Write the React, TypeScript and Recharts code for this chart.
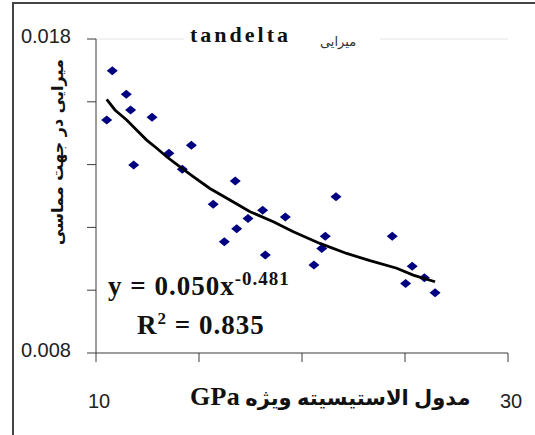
import {ReferenceLine, Scatter, ScatterChart, XAxis, YAxis} from 'recharts';

// measured points: specific modulus (GPa) vs tan delta
const modulusGPa = [10.52, 10.79, 11.47, 11.68, 11.83, 12.72, 13.54, 14.19, 14.63, 15.69, 16.23, 16.76, 16.83,
  17.38, 18.09, 18.22, 19.19, 20.58, 20.96, 21.13, 21.65, 24.38, 25.03, 25.35, 25.94, 26.46];
const tanDelta = [0.01542, 0.01699, 0.01624, 0.01574, 0.01399, 0.01551, 0.01436, 0.01385, 0.01462, 0.01274, 0.01154,
  0.01348, 0.01196, 0.01228, 0.01255, 0.01112, 0.01233, 0.0108, 0.01133, 0.01172, 0.01298, 0.01172, 0.01021,
  0.01076, 0.0104, 0.00992];

// power trend line
const trendModulus = [10.52, 10.92, 11.49, 11.97, 12.46, 12.95, 13.43, 14.08, 14.72, 15.53, 16.5, 17.48, 18.61,
  19.58, 20.87, 22.17, 23.3, 24.6, 25.4, 26.46];
const trendTanDelta = [0.01608, 0.01574, 0.01542, 0.0151, 0.01478, 0.01452, 0.01425, 0.01393, 0.01362, 0.01324,
  0.01287, 0.0125, 0.01218, 0.01186, 0.01149, 0.01117, 0.01094, 0.0107, 0.01048, 0.01027];

const xTicks = [10, 15, 20, 25, 30];
const xTickLabels = ['10', '', '', '', '30'];
const yTicks = [0.008, 0.01, 0.012, 0.014, 0.016, 0.018];
const yTickLabels = ['0.008', '', '', '', '', '0.018'];

const points = modulusGPa.map((x, i) => ({x, y: tanDelta[i]}));
const trend = trendModulus.map((x, i) => ({x, y: trendTanDelta[i]}));

const AXIS = '#3a3a3a';
const TICK_FONT = '"Liberation Sans", Arial, sans-serif';

function Diamond(props: any) {
  const {cx, cy} = props;
  if (cx == null || cy == null) return <g />;
  return (
    <polygon
      points={`${cx},${cy - 4.5} ${cx + 5.5},${cy} ${cx},${cy + 4.5} ${cx - 5.5},${cy}`}
      fill="#000080"
    />
  );
}

function XTick(props: any) {
  const {x, payload} = props;
  const idx = xTicks.findIndex((t) => Math.abs(t - payload.value) < 1e-6);
  const label = idx >= 0 ? xTickLabels[idx] : '';
  return (
    <text x={x + 3} y={408} textAnchor="middle" fontSize={20} fontFamily={TICK_FONT} fill="#222">
      {label}
    </text>
  );
}

function YTick(props: any) {
  const {y, payload} = props;
  const idx = yTicks.findIndex((t) => Math.abs(t - payload.value) < 1e-9);
  const label = idx >= 0 ? yTickLabels[idx] : '';
  return (
    <text x={71} y={y + 4} textAnchor="end" fontSize={20} fontFamily={TICK_FONT} fill="#222">
      {label}
    </text>
  );
}

export default function App() {
  return (
    <div style={{position: 'absolute', left: 0, top: 0, width: 535, height: 435, overflow: 'hidden', background: '#fff'}}>
      <div style={{position: 'absolute', left: 12, top: 2, width: 600, height: 500, border: '2px solid #444'}} />
      <div style={{position: 'absolute', left: 0, top: 0}}>
        <ScatterChart width={535} height={435} margin={{top: 39, right: 27, bottom: 0, left: 0}}>
          <XAxis
            type="number"
            dataKey="x"
            domain={[10, 30]}
            ticks={xTicks}
            height={82}
            stroke={AXIS}
            tickSize={9}
            tick={<XTick />}
            allowDataOverflow
          />
          <YAxis
            type="number"
            dataKey="y"
            domain={[0.008, 0.018]}
            ticks={yTicks}
            width={96}
            stroke={AXIS}
            tickSize={9}
            tick={<YTick />}
            allowDataOverflow
          />
          <ReferenceLine y={0.018} stroke="#e4e4e4" />
          <Scatter data={points} shape={<Diamond />} isAnimationActive={false} />
          <Scatter
            data={trend}
            line={{stroke: '#000', strokeWidth: 2.8}}
            lineType="joint"
            shape={() => <g />}
            isAnimationActive={false}
          />
        </ScatterChart>
      </div>

      <div style={{position: 'absolute', left: 184, top: 24, width: 196, height: 24, background: '#fff'}} />
      <div
        style={{position: 'absolute', left: 190, top: 22, fontFamily: '"Liberation Serif", serif', fontWeight: 'bold',
          fontSize: 22, letterSpacing: 3, color: '#111', whiteSpace: 'nowrap'}}
      >
        tandelta
      </div>
      <div
        dir="rtl"
        style={{position: 'absolute', left: 320, top: 34, fontFamily: '"DejaVu Sans", sans-serif', fontSize: 13,
          color: '#333', whiteSpace: 'nowrap'}}
      >
        میرایی
      </div>

      <div
        dir="rtl"
        style={{position: 'absolute', left: 57, top: 152, transform: 'translate(-50%, -50%) rotate(-90deg)',
          fontFamily: '"DejaVu Sans", sans-serif', fontWeight: 'bold', fontSize: 16, color: '#111', whiteSpace: 'nowrap'}}
      >
        میرایی در جهت مماسی
      </div>

      <div
        dir="rtl"
        style={{position: 'absolute', left: 190, top: 382, fontFamily: '"Liberation Serif", "DejaVu Sans", serif',
          fontWeight: 'bold', fontSize: 21, letterSpacing: 0.3, color: '#111', whiteSpace: 'nowrap'}}
      >
        مدول الاستیسیته ویژه <span style={{fontSize: 26}}>GPa</span>
      </div>

      <div
        style={{position: 'absolute', left: 108, top: 268, fontFamily: '"Liberation Serif", serif', fontWeight: 'bold',
          fontSize: 27, letterSpacing: 1, color: '#111', whiteSpace: 'nowrap'}}
      >
        y = 0.050x<sup style={{fontSize: 19}}>-0.481</sup>
      </div>
      <div
        style={{position: 'absolute', left: 137, top: 309, fontFamily: '"Liberation Serif", serif', fontWeight: 'bold',
          fontSize: 27, letterSpacing: 1, color: '#111', whiteSpace: 'nowrap'}}
      >
        R<sup style={{fontSize: 17}}>2</sup> = 0.835
      </div>
    </div>
  );
}
